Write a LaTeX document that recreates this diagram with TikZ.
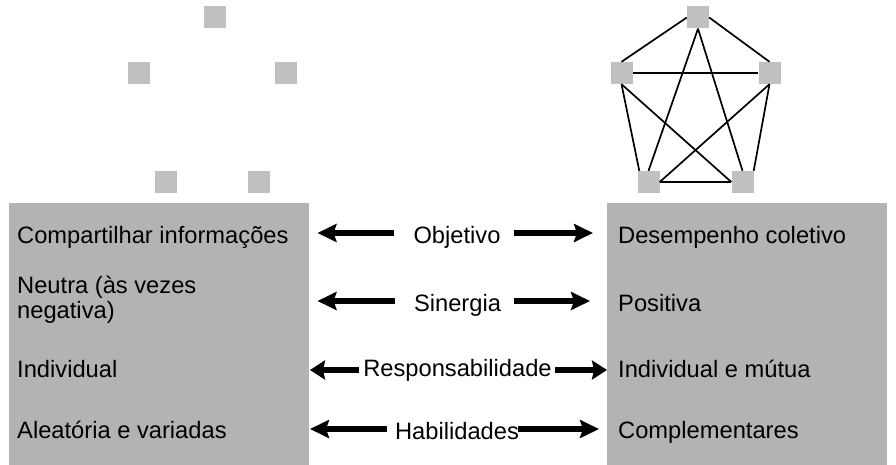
\documentclass[tikz,border=0pt]{standalone}
\usepackage{fontspec}
\setmainfont{Liberation Sans}
\usetikzlibrary{arrows.meta}
\definecolor{sqgray}{RGB}{192,192,192}
\definecolor{boxgray}{RGB}{179,179,179}
\tikzset{
  sq/.style={rectangle, fill=sqgray, minimum size=22pt, inner sep=0pt},
  panel/.style={rectangle, fill=boxgray, inner sep=0pt},
  txt/.style={inner sep=0pt, font=\fontsize{23.7}{25}\selectfont, align=left},
  lbl/.style={inner sep=0pt, font=\fontsize{23.7}{25}\selectfont},
  edge/.style={line width=1.7pt, black},
  arr/.style={line width=6.5pt, -{Stealth[length=19pt,width=18pt,inset=3pt]}},
  arrs/.style={line width=6.5pt, -{Stealth[length=15pt,width=19pt,inset=2pt]}},
}
\begin{document}
\begin{tikzpicture}[x=1pt,y=-1pt]
\useasboundingbox (0,0) rectangle (896,465);
% panels
\node[panel, minimum width=300pt, minimum height=262pt, anchor=north west] (lp) at (9,203) {};
\node[panel, minimum width=280pt, minimum height=262pt, anchor=north west] (rp) at (607,203) {};
% left squares (no links)
\node[sq] (a1) at (215,17.5) {};
\node[sq] (a2) at (138.5,73) {};
\node[sq] (a3) at (286,73) {};
\node[sq] (a4) at (166,182) {};
\node[sq] (a5) at (259,182) {};
% right squares (complete graph)
\node[sq] (b1) at (698,17.5) {};
\node[sq] (b2) at (621.5,73) {};
\node[sq] (b3) at (769.5,73) {};
\node[sq] (b4) at (648.5,182) {};
\node[sq] (b5) at (742.5,182) {};
\draw[edge] (b1.west) -- (b2.north);
\draw[edge] (b1.east) -- (b3.north);
\draw[edge] (b2.east) -- (b3.west);
\draw[edge] (b1.south) -- (b4.north);
\draw[edge] (b1.south) -- (b5.north);
\draw[edge] (b2.south) -- ([xshift=2pt]b4.north west);
\draw[edge] (b2.south) -- (b5.west);
\draw[edge] (b3.south) -- (b4.east);
\draw[edge] (b3.south) -- (b5.north east);
\draw[edge] (b4.east) -- (b5.west);
% left texts
\node[txt, anchor=base west] (l1) at (17,243.3) {Compartilhar informações};
\node[txt, anchor=base west] (l2) at (17,318.3) {Neutra (às vezes\\negativa)};
\node[txt, anchor=base west] (l3) at (17,377.3) {Individual};
\node[txt, anchor=base west] (l4) at (17,438.3) {Aleatória e variadas};
% right texts
\node[txt, anchor=base west] (r1) at (618,243.3) {Desempenho coletivo};
\node[txt, anchor=base west] (r2) at (618,311.7) {Positiva};
\node[txt, anchor=base west] (r3) at (618,377.3) {Individual e mútua};
\node[txt, anchor=base west] (r4) at (618,438.3) {Complementares};
% middle labels
\node[lbl, anchor=base] (m1) at (457,243.3) {Objetivo};
\node[lbl, anchor=base] (m2) at (457.5,311.7) {Sinergia};
\node[lbl, anchor=base] (m3) at (457.5,376) {Responsabilidade};
\node[lbl, anchor=base] (m4) at (457,439) {Habilidades};
% arrow tips
\coordinate (t1l) at (317.5,233);
\coordinate (t1r) at (593,233);
\coordinate (t2l) at (317.5,301);
\coordinate (t2r) at (590,301);
\coordinate (t3l) at (310,370);
\coordinate (t3r) at (607,370);
\coordinate (t4l) at (310,429);
\coordinate (t4r) at (599,429);
\draw[arr] ([xshift=-19pt]m1.west |- t1l) -- (t1l);
\draw[arr] ([xshift=13pt]m1.east |- t1r) -- (t1r);
\draw[arr] ([xshift=-19pt]m2.west |- t2l) -- (t2l);
\draw[arr] ([xshift=13pt]m2.east |- t2r) -- (t2r);
\draw[arrs] ([xshift=-4pt]m3.west |- t3l) -- (t3l);
\draw[arrs] ([xshift=3pt]m3.east |- t3r) -- (t3r);
\draw[arr] ([xshift=-8pt]m4.west |- t4l) -- (t4l);
\draw[arr] ([xshift=-1pt]m4.east |- t4r) -- (t4r);
\end{tikzpicture}
\end{document}
